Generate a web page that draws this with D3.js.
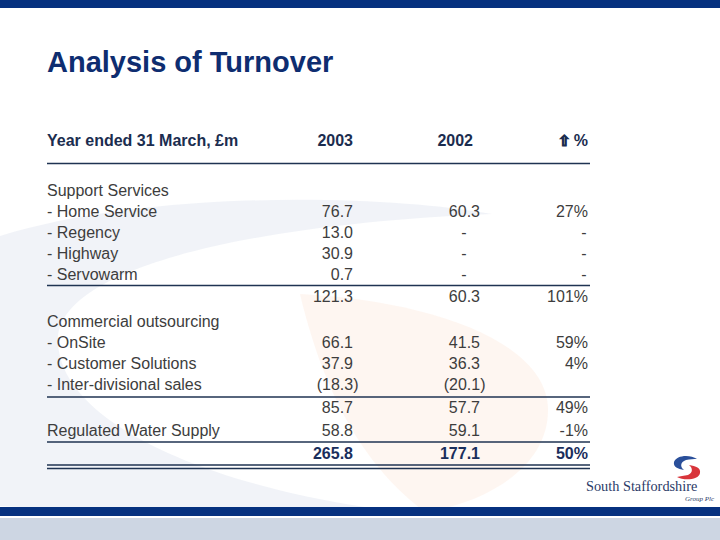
<!DOCTYPE html>
<html><head><meta charset="utf-8">
<script src="https://cdn.jsdelivr.net/npm/d3@7"></script>
<style>html,body{margin:0;padding:0;background:#fff}svg{display:block}</style>
</head><body>
<script>
// ---- data ----
const title = "Analysis of Turnover";
const headerLabel = "Year ended 31 March, £m";
const years = ["2003", "2002"];
const changeHeader = "%";
const rowLabels = ["Support Services", "- Home Service", "- Regency", "- Highway", "- Servowarm", "",
  "Commercial outsourcing", "- OnSite", "- Customer Solutions", "- Inter-divisional sales", "",
  "Regulated Water Supply", ""];
const values2003 = [null, 76.7, 13.0, 30.9, 0.7, 121.3, null, 66.1, 37.9, -18.3, 85.7, 58.8, 265.8];
const values2002 = [null, 60.3, "-", "-", "-", 60.3, null, 41.5, 36.3, -20.1, 57.7, 59.1, 177.1];
const changePct = [null, 27, "-", "-", "-", 101, null, 59, 4, null, 49, -1, 50];
const totalRow = 12;

// ---- layout ----
const W = 720, H = 540;
const svg = d3.select("body").append("svg").attr("width", W).attr("height", H);
const navy = "#06317f";

// background decoration
svg.append("path")
  .attr("d", "M 492 214 C 380 194, 150 190, 0 236 L 0 506 C 120 512, 260 514, 365 507 C 200 482, 58 420, 58 340 C 58 268, 250 224, 492 214 Z")
  .attr("fill", "#edf0f6").attr("opacity", 0.8);
svg.append("path")
  .attr("d", "M 300 294 C 425 300, 548 340, 548 410 C 548 468, 485 503, 425 512 C 380 478, 330 420, 300 294 Z")
  .attr("fill", "#fef4ee").attr("opacity", 0.8);

// bands
svg.append("rect").attr("x", 0).attr("y", 0).attr("width", W).attr("height", 8).attr("fill", navy);
svg.append("rect").attr("x", 0).attr("y", 507).attr("width", W).attr("height", 9).attr("fill", navy);
svg.append("rect").attr("x", 0).attr("y", 518).attr("width", W).attr("height", 22).attr("fill", "#cdd6e3");

// title
svg.append("text").attr("x", 47).attr("y", 72).text(title)
  .attr("font-family", "'Liberation Sans', Arial, sans-serif").attr("font-weight", "bold")
  .attr("font-size", 29).attr("fill", "#0e2d70");

const font = "'Liberation Sans', Arial, sans-serif";
const left = 47, right = 590;
const col = {c2003: 353, c2002: 480, pct: 588};

// row positions via scale over row index plus section gaps
const extra = rowLabels.map((d, i) => (i >= 5 ? 1 : 0) + (i >= 6 ? 4 : 0) + (i >= 10 ? 2 : 0) + (i >= 11 ? 2 : 0) + (i >= 12 ? 2 : 0));
const yUnit = d3.scaleLinear().domain([0, 1]).range([190, 211]);
const yRow = i => yUnit(i) + extra[i];

// header
const hy = 146;
const hdr = "#1b2d4f";
svg.append("text").attr("x", left).attr("y", hy).text(headerLabel)
  .attr("font-family", font).attr("font-weight", "bold").attr("font-size", 16).attr("fill", hdr);
svg.append("text").attr("x", col.c2003).attr("y", hy).attr("text-anchor", "end").text(years[0])
  .attr("font-family", font).attr("font-weight", "bold").attr("font-size", 16).attr("fill", hdr);
svg.append("text").attr("x", col.c2002 - 7).attr("y", hy).attr("text-anchor", "end").text(years[1])
  .attr("font-family", font).attr("font-weight", "bold").attr("font-size", 16).attr("fill", hdr);
const ch = svg.append("text").attr("x", col.pct).attr("y", hy).attr("text-anchor", "end")
  .attr("font-family", font).attr("font-weight", "bold").attr("font-size", 16).attr("fill", hdr);
ch.append("tspan").text("⇧").attr("font-family", "'DejaVu Sans', sans-serif").attr("font-size", 15)
  .attr("stroke", hdr).attr("stroke-width", 1.1);
ch.append("tspan").attr("dx", 3).text(changeHeader);

// rules
const rule = (y) => svg.append("line").attr("x1", left).attr("x2", right).attr("y1", y).attr("y2", y)
  .attr("stroke", "#1f3352").attr("stroke-width", 1.3);
rule(163.5);
rule((yRow(4) + yRow(5)) / 2 + 0.5);
rule((yRow(9) + yRow(10)) / 2 + 1.5);
rule((yRow(11) + yRow(12)) / 2 + 0.5);
rule(yRow(12) + 12);
rule(yRow(12) + 15.5);

// labels
const bodyColor = "#3d3d3d";
svg.append("g").selectAll("text").data(rowLabels).join("text")
  .attr("x", left).attr("y", (d, i) => yRow(i) + 6).text(d => d)
  .attr("font-family", font).attr("font-size", 16).attr("fill", bodyColor);

const fmtNum = v => v < 0 ? "(" + d3.format(".1f")(-v) + ")" : d3.format(".1f")(v);
const fmtPct = v => v + "%";

function column(values, x, fmt, dashOffset) {
  svg.append("g").selectAll("text").data(values).join("text")
    .attr("x", v => v === "-" ? x - dashOffset : (typeof v === "number" && v < 0 && fmt === fmtNum ? x + 5.5 : x))
    .attr("y", (v, i) => yRow(i) + 6)
    .attr("text-anchor", v => v === "-" ? "middle" : "end")
    .text(v => v === null ? "" : v === "-" ? "-" : fmt(v))
    .attr("font-family", font).attr("font-size", 16)
    .attr("font-weight", (v, i) => i === totalRow ? "bold" : null)
    .attr("fill", (v, i) => i === totalRow ? "#1a2e5c" : bodyColor);
}
column(values2003, col.c2003, fmtNum, 0);
column(values2002, col.c2002, fmtNum, 16);
column(changePct, col.pct, fmtPct, 4);

// logo
const logo = svg.append("g");
logo.append("path").attr("d", "M 697 459 C 690 454, 676 455, 674 462 C 673 467, 678 469, 684 470 C 680 467, 680 462, 686 460 C 690 459, 694 459, 697 459 Z").attr("fill", "#2a4f9a");
logo.append("path").attr("d", "M 677 477 C 684 481, 699 480, 700 473 C 701 468, 696 466, 689 465 C 693 468, 693 473, 688 475 C 684 476, 680 476, 677 477 Z").attr("fill", "#d8353b");
logo.append("text").attr("x", 586).attr("y", 491).text("South Staffordshire")
  .attr("font-family", "'Liberation Serif', 'DejaVu Serif', serif").attr("font-size", 14.3).attr("fill", "#2b3b68");
logo.append("text").attr("x", 714).attr("y", 501).attr("text-anchor", "end").text("Group Plc")
  .attr("font-family", "'Liberation Serif', serif").attr("font-style", "italic").attr("font-size", 7).attr("fill", "#2b3b68");
</script>
</body></html>
